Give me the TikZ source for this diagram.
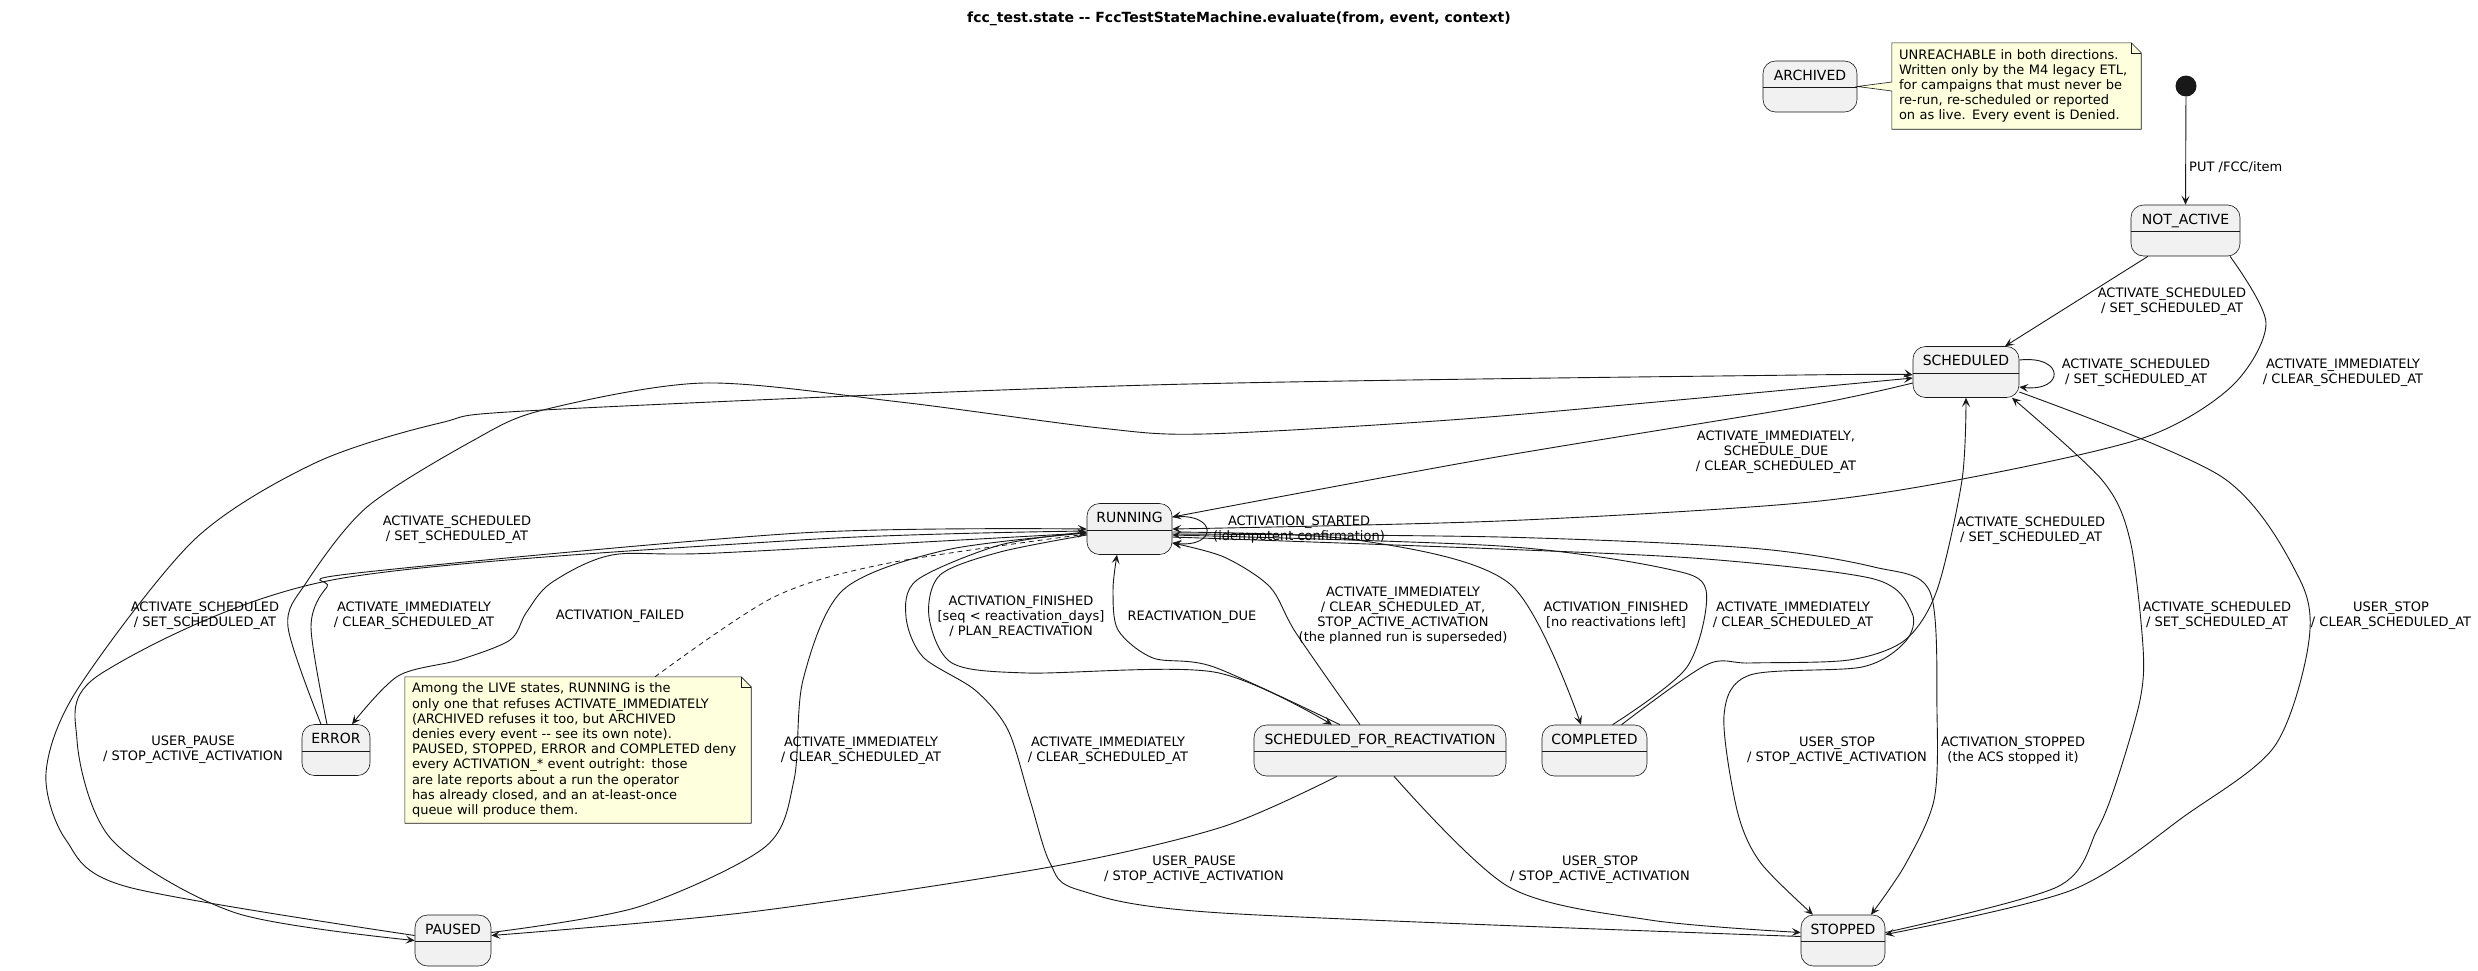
\documentclass[tikz,border=0pt]{standalone}
\usepackage{fontspec}
\setmainfont{DejaVu Sans}
\usetikzlibrary{arrows.meta}
\usetikzlibrary{backgrounds}
\definecolor{linec}{HTML}{181818}
\definecolor{statefill}{HTML}{F1F1F1}
\definecolor{notefill}{HTML}{FEFFDD}

\begin{document}
\begin{tikzpicture}[x=1pt, y=-1pt,
		state/.style={draw=linec, fill=statefill, line width=0.6pt, rounded corners=12.5pt, minimum height=51pt, inner ysep=0pt, text height=19pt, text depth=32pt, font=\fontsize{14}{16}\selectfont},
		tr/.style={draw=linec, line width=0.9pt, -{Stealth[length=9pt,width=8pt,inset=4pt]}},
		lbl/.style={align=center, inner sep=0pt, font=\fontsize{13}{15}\selectfont},
		notetext/.style={align=left, inner xsep=7pt, inner ysep=0pt, font=\fontsize{13}{15}\selectfont},
		notebox/.style={draw=linec, fill=notefill, line width=0.6pt}]

		\useasboundingbox (0,0) rectangle (2478,970);

		\node (title) at (1239,19) {\fontsize{14}{16}\selectfont\bfseries fcc\_test.state -{}- FccTestStateMachine.evaluate(from, event, context)};

		\node [state, minimum width=94pt] (archived) at (1810,86.5) {ARCHIVED};
		\node [circle, fill=linec, minimum size=21pt, inner sep=0pt] (start) at (2186,86) {};
		\node [state, minimum width=109pt] (notactive) at (2185.5,230.5) {NOT\_ACTIVE};
		\node [state, minimum width=106pt] (scheduled) at (1966,372) {SCHEDULED};
		\node [state, minimum width=85pt] (running) at (1129.5,529) {RUNNING};
		\node [state, minimum width=68pt] (error) at (336,750) {ERROR};
		\node [state, minimum width=252pt] (reactivation) at (1380,750.5) {SCHEDULED\_FOR\_REACTIVATION};
		\node [state, minimum width=105pt] (completed) at (1594.5,750.5) {COMPLETED};
		\node [state, minimum width=76pt] (paused) at (453,940.5) {PAUSED};
		\node [state, minimum width=84pt] (stopped) at (1843,940.5) {STOPPED};

		\foreach \s in {archived,notactive,scheduled,running,error,reactivation,completed,paused,stopped}
			\draw [linec, line width=0.6pt] ([yshift=-27pt]\s.north west) -- ([yshift=-27pt]\s.north east);

		\node [notetext, text width=235pt, minimum width=249pt, minimum height=86pt] (archivednote) at (2016.5,86) {UNREACHABLE in both directions.\\Written only by the M4 legacy ETL,\\for campaigns that must never be\\re-run, re-scheduled or reported\\on as live. Every event is Denied.};
		\node [notetext, text width=332pt, minimum width=346pt, minimum height=146pt] (livenote) at (578,750) {\baselineskip=15.2pt Among the LIVE states, RUNNING is the\\only one that refuses ACTIVATE\_IMMEDIATELY\\(ARCHIVED refuses it too, but ARCHIVED\\denies every event -{}- see its own note).\\PAUSED, STOPPED, ERROR and COMPLETED deny\\every ACTIVATION\_* event outright: those\\are late reports about a run the operator\\has already closed, and an at-least-once\\queue will produce them.};

		\begin{scope}[on background layer]
			\fill [white] (0,0) rectangle (2478,970);
			\foreach \n in {archivednote,livenote} {
				\draw [notebox] (\n.north west) -- ([xshift=-10pt]\n.north east) -- ([yshift=-10pt]\n.north east) -- (\n.south east) -- (\n.south west) -- cycle;
				\draw [linec, line width=0.6pt] ([xshift=-10pt]\n.north east) |- ([yshift=-10pt]\n.north east);
			}
		\end{scope}
		\fill [notefill] ([xshift=1pt,yshift=4pt]archivednote.west) -- (archived.east) -- ([xshift=1pt,yshift=-5pt]archivednote.west) -- cycle;
		\draw [linec, line width=0.6pt] ([yshift=4pt]archivednote.west) -- (archived.east) -- ([yshift=-5pt]archivednote.west);
		\draw [linec, line width=0.8pt, dash pattern=on 5pt off 4pt] plot [smooth] coordinates {([xshift=77pt]livenote.north) (774,597) (889,563) ([yshift=-5pt]running.west)};

		\draw [tr] (start) -- (notactive.north);
		\draw [tr] ([xshift=-37.5pt]notactive.south) -- ([xshift=39pt]scheduled.north);
		\draw [tr] plot [smooth] coordinates {([xshift=44.5pt]notactive.south) (2266,323) (2232,386) (2146,437) (1973,477) (1800,503) (1500,521) (running.east)};
		\draw [tr] ([yshift=12pt]scheduled.east) .. controls (2065,355) and (2065,392) .. ([yshift=-15pt]scheduled.east);
		\draw [tr] plot [smooth] coordinates {([yshift=-11pt]scheduled.west) (1800,407) (1485,459) ([yshift=12pt]running.east)};
		\draw [tr] plot [smooth] coordinates {([yshift=-20pt]scheduled.east) (2222,477) (2300,580) (2308,647) (2274,747) (2186,815) (2072,890) ([yshift=6pt]stopped.east)};
		\draw [tr] ([yshift=12pt]running.east) .. controls (1218,512) and (1218,548) .. ([yshift=-14pt]running.east);
		\draw [tr] plot [smooth] coordinates {([yshift=-6pt]running.west) (1000,552) (940,575) (929,617) (952,663) (1027,673) (1214,672) ([xshift=-48pt]reactivation.north)};
		\draw [tr] plot [smooth] coordinates {([yshift=-3pt]running.east) (1357,540) (1510,584) ([xshift=-13.5pt]completed.north)};
		\draw [tr] plot [smooth] coordinates {([xshift=18pt]completed.north) (1687,667) (1706,590) (1663,568) (1500,546) ([yshift=-6pt]running.east)};
		\draw [tr] plot [smooth] coordinates {([xshift=27pt]completed.north) (1706,665) (1750,663) (1849,660) (1905,640) (1937,590) (1962,480) (scheduled.south)};
		\draw [tr] plot [smooth] coordinates {([yshift=-8pt]running.east) (1500,549) (1706,559) (1874,579) (1912,613) (1905,642) (1862,667) (1750,675) (1724,715) (1737,810) (1760,862) ([xshift=-30pt]stopped.north)};
		\draw [tr] plot [smooth] coordinates {([yshift=-5pt]running.east) (1500,537) (1750,548) (1874,567) (1930,592) (1937,713) (1934,800) (1905,865) ([xshift=28pt]stopped.north)};
		\draw [tr] plot [smooth] coordinates {([xshift=-40pt]reactivation.north) (1214,667) (1153,658) (1118,630) (1113,590) ([xshift=-12.5pt]running.south)};
		\draw [tr] plot [smooth] coordinates {([xshift=-20pt]reactivation.north) (1296,633) (1270,587) (1224,557) ([yshift=-14pt]running.east)};
		\draw [tr] plot [smooth] coordinates {([xshift=-43pt]reactivation.south) (1222,827) (1050,867) (750,912) ([yshift=5pt]paused.east)};
		\draw [tr] plot [smooth] coordinates {([xshift=14pt]reactivation.south) (1509,887) (1650,920) ([yshift=8pt]stopped.west)};
		\draw [tr] plot [smooth] coordinates {([yshift=5pt]paused.west) (128,887) (66,840) (46,773) (77,690) (194,540) (315,463) (440,423) (543,410) (1150,385) (1800,375) ([yshift=-3pt]scheduled.west)};
		\draw [tr] plot [smooth] coordinates {([yshift=-2pt]running.west) (800,540) (332,580) (102,673) (77,740) (112,840) (236,913) (paused.west)};
		\draw [tr] plot [smooth] coordinates {([yshift=8pt]paused.east) (638,907) (765,847) (794,780) (803,680) (843,590) (946,550) ([yshift=-4pt]running.west)};
		\draw [tr] plot [smooth] coordinates {([yshift=8pt]stopped.east) (2057,887) (2097,830) (2117,780) (2140,700) (2143,647) (2130,540) (2102,480) ([xshift=46pt]scheduled.south)};
		\draw [tr] plot [smooth] coordinates {([yshift=4pt]stopped.west) (1222,913) (1079,890) (1050,863) (1030,800) (1008,730) (975,690) (923,657) (906,617) (917,580) (1000,545) ([yshift=-3pt]running.west)};
		\draw [tr] plot [smooth] coordinates {([xshift=-15pt]error.north) (288,627) (306,583) (367,507) (474,440) (543,410) (704,383) (900,402) (1100,428) (1204,434) (1450,420) (1678,400) ([yshift=-6pt]scheduled.west)};
		\draw [tr] plot [smooth] coordinates {([xshift=-9pt]error.north) (311,627) (327,587) (357,573) (800,533) (running.west)};
		\draw [tr] plot [smooth] coordinates {([yshift=-4pt]running.west) (717,553) (612,555) (551,583) (526,613) (510,640) (459,660) (398,676) ([xshift=16pt]error.north)};

		\node [lbl, anchor=west] (putlbl) at (2189,167) {PUT /FCC/item};
		\node [lbl] (nasched) at (2172,301.5) {ACTIVATE\_SCHEDULED\\/ SET\_SCHEDULED\_AT};
		\node [lbl] (narun) at (2343,372.5) {ACTIVATE\_IMMEDIATELY\\/ CLEAR\_SCHEDULED\_AT};
		\node [lbl] (schedself) at (2136,372.5) {ACTIVATE\_SCHEDULED\\/ SET\_SCHEDULED\_AT};
		\node [lbl] (schedrun) at (1776,452) {ACTIVATE\_IMMEDIATELY,\\SCHEDULE\_DUE\\/ CLEAR\_SCHEDULED\_AT};
		\node [lbl] (schedstop) at (2391,615.5) {USER\_STOP\\/ CLEAR\_SCHEDULED\_AT};
		\node [lbl] (runself) at (1299,529.5) {ACTIVATION\_STARTED\\(idempotent confirmation)};
		\node [lbl] (runreact) at (1021,617) {ACTIVATION\_FINISHED\\{}[seq < reactivation\_days]\\/ PLAN\_REACTIVATION};
		\node [lbl] (runcomp) at (1616,615.5) {ACTIVATION\_FINISHED\\{}[no reactivations left]};
		\node [lbl] (comprun) at (1793,615.5) {ACTIVATE\_IMMEDIATELY\\/ CLEAR\_SCHEDULED\_AT};
		\node [lbl] (compsched) at (2031,530.5) {ACTIVATE\_SCHEDULED\\/ SET\_SCHEDULED\_AT};
		\node [lbl] (runstop) at (1837,750.5) {USER\_STOP\\/ STOP\_ACTIVE\_ACTIVATION};
		\node [lbl] (acsstop) at (2013,750.5) {ACTIVATION\_STOPPED\\(the ACS stopped it)};
		\node [lbl] (reactdue) at (1192,617) {REACTIVATION\_DUE};
		\node [lbl] (reactrun) at (1403,616) {ACTIVATE\_IMMEDIATELY\\/ CLEAR\_SCHEDULED\_AT,\\STOP\_ACTIVE\_ACTIVATION\\(the planned run is superseded)};
		\node [lbl] (reactpause) at (1194,869.5) {USER\_PAUSE\\/ STOP\_ACTIVE\_ACTIVATION};
		\node [lbl] (reactstop) at (1600,869.5) {USER\_STOP\\/ STOP\_ACTIVE\_ACTIVATION};
		\node [lbl] (pausesched) at (205,615.5) {ACTIVATE\_SCHEDULED\\/ SET\_SCHEDULED\_AT};
		\node [lbl] (runpause) at (193,749.5) {USER\_PAUSE\\/ STOP\_ACTIVE\_ACTIVATION};
		\node [lbl] (pauserun) at (861,750.5) {ACTIVATE\_IMMEDIATELY\\/ CLEAR\_SCHEDULED\_AT};
		\node [lbl] (stopsched) at (2217,615.5) {ACTIVATE\_SCHEDULED\\/ SET\_SCHEDULED\_AT};
		\node [lbl] (stoprun) at (1108,750.5) {ACTIVATE\_IMMEDIATELY\\/ CLEAR\_SCHEDULED\_AT};
		\node [lbl] (errsched) at (457,529.5) {ACTIVATE\_SCHEDULED\\/ SET\_SCHEDULED\_AT};
		\node [lbl] (errrun) at (414,615.5) {ACTIVATE\_IMMEDIATELY\\/ CLEAR\_SCHEDULED\_AT};
		\node [lbl] (runerr) at (620,616) {ACTIVATION\_FAILED};
	\end{tikzpicture}
\end{document}
